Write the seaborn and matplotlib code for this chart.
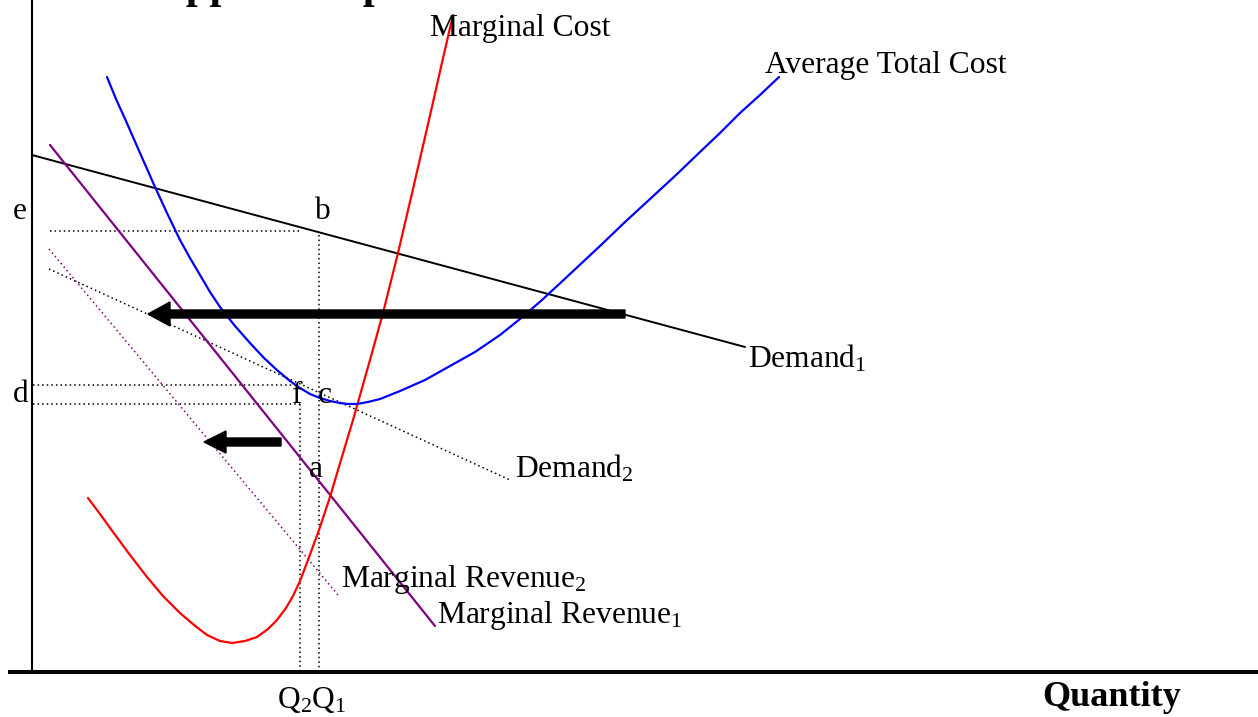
import matplotlib
matplotlib.use("Agg")
import matplotlib.pyplot as plt
import seaborn as sns

# ---- data (quantity, price units) ----
demand1_q = [0.0, 71.3]
demand1_p = [51.7, 32.5]
demand2_q = [1.7, 47.8]
demand2_p = [40.3, 19.2]
mr1_q = [1.8, 40.3]
mr1_p = [52.7, 4.6]
mr2_q = [1.7, 30.6]
mr2_p = [42.3, 7.7]

mc_q = [5.6, 6.8, 8.1, 9.8, 11.5, 13.1, 14.8, 16.2, 17.5, 18.8, 20.0, 21.3,
        22.5, 23.6, 24.5, 25.4, 26.1, 26.8, 27.6, 28.7, 29.8, 30.9, 32.1,
        33.8, 35.1, 36.6, 38.1, 39.7, 40.9, 42.1]
mc_p = [17.4, 15.8, 14.0, 11.7, 9.5, 7.6, 5.9, 4.7, 3.7, 3.1, 2.9, 3.1,
        3.5, 4.3, 5.2, 6.4, 7.6, 9.1, 11.2, 14.2, 17.5, 21.2, 25.2,
        31.2, 35.9, 41.9, 48.3, 55.2, 60.5, 65.7]

atc_q = [7.5, 8.4, 9.4, 10.8, 12.3, 13.5, 14.8, 15.8, 16.8, 17.8, 18.8, 20.3,
         21.8, 23.2, 24.6, 25.8, 26.8, 27.8, 28.8, 29.8, 30.8, 31.6, 32.5,
         33.6, 34.8, 35.8, 36.8, 39.3, 41.8, 44.3, 46.8, 48.8, 51.0, 53.8,
         56.8, 59.3, 61.8, 64.3, 66.8, 68.8, 70.8, 72.8, 74.7]
atc_p = [59.5, 57.3, 55.1, 51.9, 48.5, 45.9, 43.2, 41.4, 39.7, 38.0, 36.5, 34.6,
         32.9, 31.4, 30.1, 29.1, 28.4, 27.8, 27.4, 27.1, 26.9, 26.8, 26.8,
         27.0, 27.3, 27.7, 28.1, 29.2, 30.6, 32.0, 33.7, 35.3, 37.2, 39.8,
         42.6, 45.0, 47.3, 49.6, 52.0, 53.9, 55.9, 57.7, 59.5]

price_e = 44.1
price_d_upper = 28.7
price_d_lower = 26.8
q2 = 26.8
q1 = 28.7
price_b = 43.7

big_arrow_q = [59.3, 11.6]
big_arrow_p = 35.8
small_arrow_q = [24.9, 17.2]
small_arrow_p = 23.0

# ---- style ----
sns.set_theme(style="white")
plt.rcParams["font.family"] = ["Liberation Serif", "DejaVu Serif"]
plt.rcParams["mathtext.fontset"] = "custom"
plt.rcParams["mathtext.rm"] = "Liberation Serif"
plt.rcParams["mathtext.it"] = "Liberation Serif:italic"
plt.rcParams["mathtext.bf"] = "Liberation Serif:bold"
plt.rcParams["mathtext.default"] = "regular"

fig = plt.figure(figsize=(12.58, 7.17), dpi=100)
fig.patch.set_facecolor("white")
ax = fig.add_axes([0, 0, 1, 1])
ax.set_xlim(-3.2, 122.6)
ax.set_ylim(-4.5, 67.2)
ax.set_axis_off()

dot = (0, (1, 2))

# axes lines
ax.plot([0, 0], [0, 67.2], color="black", lw=1.5, solid_capstyle="butt")
ax.plot([-2.4, 122.6], [0, 0], color="black", lw=2.9, solid_capstyle="butt")

# guide lines
ax.plot([1.8, 27.0], [price_e, price_e], color="black", lw=1.1, ls=dot)
ax.plot([0.1, 26.4], [price_d_upper, price_d_upper], color="black", lw=1.1, ls=dot)
ax.plot([0.1, q2], [price_d_lower, price_d_lower], color="black", lw=1.1, ls=dot)
ax.plot([q2, q2], [price_d_lower, 0], color="black", lw=1.1, ls=dot)
ax.plot([q1, q1], [price_b, 0], color="black", lw=1.1, ls=dot)

# curves
sns.lineplot(x=demand1_q, y=demand1_p, sort=False, ax=ax, color="black", lw=1.4)
sns.lineplot(x=demand2_q, y=demand2_p, sort=False, ax=ax, color="black", lw=1.1, ls=dot)
sns.lineplot(x=mr1_q, y=mr1_p, sort=False, ax=ax, color="#800080", lw=1.6)
sns.lineplot(x=mr2_q, y=mr2_p, sort=False, ax=ax, color="#800080", lw=1.1, ls=dot)
sns.lineplot(x=mc_q, y=mc_p, sort=False, ax=ax, color="#ff0000", lw=1.6,
             solid_joinstyle="round")
sns.lineplot(x=atc_q, y=atc_p, sort=False, ax=ax, color="#0000ff", lw=1.6,
             solid_joinstyle="round")

# arrows
ax.arrow(big_arrow_q[0], big_arrow_p, big_arrow_q[1] - big_arrow_q[0], 0,
         width=0.8, head_width=2.4, head_length=2.2, length_includes_head=True,
         color="black", zorder=5)
ax.arrow(small_arrow_q[0], small_arrow_p, small_arrow_q[1] - small_arrow_q[0], 0,
         width=0.8, head_width=2.2, head_length=2.2, length_includes_head=True,
         color="black", zorder=5)

fs = 22.7
def lab(x, y, s, **kw):
    ax.text(x, y, s, fontsize=kw.pop("fontsize", fs), ha="left", va="baseline",
            color="black", **kw)

lab(39.8, 63.6, "Marginal Cost")
lab(73.3, 59.9, "Average Total Cost")
lab(71.6, 30.5, "Demand$_1$")
lab(48.3, 19.5, "Demand$_2$")
lab(30.9, 8.5, "Marginal Revenue$_2$")
lab(40.5, 4.9, "Marginal Revenue$_1$")
lab(-1.9, 45.3, "e")
lab(28.3, 45.3, "b")
lab(-1.9, 27.0, "d")
lab(26.0, 26.9, "f")
lab(28.6, 26.9, "c")
lab(27.7, 19.5, "a")
lab(24.5, -3.6, "Q$_2$Q$_1$")
lab(101.0, -3.4, "Quantity", fontsize=26, fontweight="bold")
lab(12.3, 67.4, "Apple Computer", fontsize=30.8, fontweight="bold")

fig.savefig("out.png", dpi=100, facecolor="white")
